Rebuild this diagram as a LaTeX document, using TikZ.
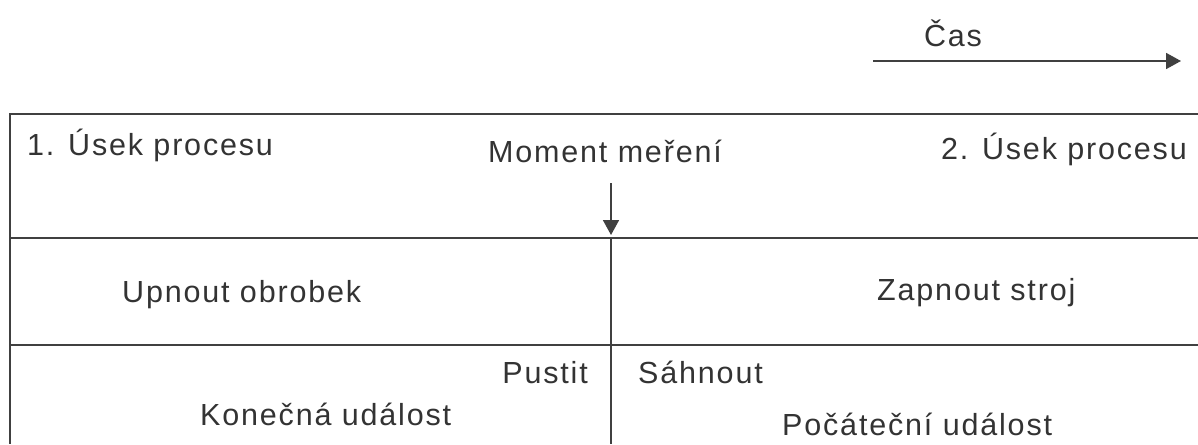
\documentclass[tikz,border=0pt]{standalone}
\usepackage{fontspec}
\setmainfont[LetterSpace=6]{Liberation Sans}
\usetikzlibrary{arrows.meta}
\begin{document}
\begin{tikzpicture}[x=1pt,y=-1pt,
  lbl/.style={inner sep=0pt,font=\fontsize{30.5}{36}\selectfont,text=black!80},
  rule/.style={line width=1.8pt,draw=black!75},
  arr/.style={line width=1.8pt,draw=black!75,-{Triangle[length=15pt,width=16pt]}}]
\useasboundingbox (0,0) rectangle (1198,444);
% table lines
\draw[rule] (1198,114) -- (10,114) -- (10,444);
\draw[rule] (10,238) -- (1198,238);
\draw[rule] (10,345) -- (1198,345);
\draw[rule] (611,238) -- (611,444);
% time arrow
\node[lbl,anchor=base] (cas) at (953,47) {Čas};
\coordinate (t0) at (873,61);
\coordinate (t1) at (1181,61);
\draw[arr] (t0) -- (t1);
% labels
\node[lbl,anchor=base west] (u1) at (27,155) {1. Úsek procesu};
\node[lbl,anchor=base] (mm) at (605,162) {Moment meření};
\node[lbl,anchor=base east] (u2) at (1187,159) {2. Úsek procesu};
\coordinate (m0) at (611,183);
\coordinate (m1) at (611,235);
\draw[arr] (m0) -- (m1);
\node[lbl,anchor=base west] (up) at (122,302) {Upnout obrobek};
\node[lbl,anchor=base west] (zs) at (877,300) {Zapnout stroj};
\node[lbl,anchor=base east] (pu) at (588,383) {Pustit};
\node[lbl,anchor=base west] (sa) at (638,383) {Sáhnout};
\node[lbl,anchor=base west] (ku) at (200,425) {Konečná událost};
\node[lbl,anchor=base west] (pc) at (782,435) {Počáteční událost};
\end{tikzpicture}
\end{document}
